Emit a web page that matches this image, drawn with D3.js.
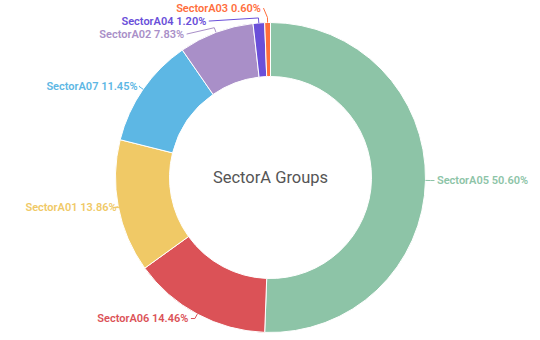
<!DOCTYPE html>
<html>
<head>
<meta charset="utf-8">
<script src="https://cdn.jsdelivr.net/npm/d3@7/dist/d3.min.js"></script>
<style>
  html, body { margin: 0; padding: 0; background: #ffffff; }
  svg { display: block; }
</style>
</head>
<body>
<svg id="chart" width="540" height="340"></svg>
<script>
// ---- data ----
const categories = ["SectorA05", "SectorA06", "SectorA01", "SectorA07", "SectorA02", "SectorA04", "SectorA03"];
const values = [50.60, 14.46, 13.86, 11.45, 7.83, 1.20, 0.60];
const centerTitle = "SectorA Groups";

// ---- styles ----
const palette = ["#8DC4A7", "#DB5257", "#F0C966", "#5DB7E4", "#A98FC8", "#6A4FD9", "#FF6E3C"];
const W = 540, H = 340;
const cx = 270.5, cy = 177.5;
const outerR = 155, innerR = 101;
const len1 = 5, len2 = 4, textGap = 2.5, lineH = 13;
const font = "Roboto, 'Noto Sans', sans-serif";

const svg = d3.select("#chart");
const g = svg.append("g").attr("transform", `translate(${cx},${cy})`);

const data = categories.map((c, i) => ({ name: c, value: values[i], color: palette[i] }));
const pie = d3.pie().sort(null).value(d => d.value);
const arcs = pie(data);
const arc = d3.arc().innerRadius(innerR).outerRadius(outerR);

g.selectAll("path.slice")
  .data(arcs)
  .join("path")
  .attr("class", "slice")
  .attr("d", arc)
  .attr("fill", d => d.data.color)
  .attr("stroke", "#ffffff")
  .attr("stroke-width", 1);

// ---- label layout (positions derived from slice angles) ----
const labels = arcs.map(a => {
  const mid = (a.startAngle + a.endAngle) / 2;
  const ux = Math.sin(mid), uy = -Math.cos(mid);
  const side = ux < 0 ? -1 : 1;
  const p1 = [outerR * ux, outerR * uy];
  const p2 = [(outerR + len1) * ux, (outerR + len1) * uy];
  return { a, side, p1, p2, x: p2[0] + len2 * side, y: p2[1], y0: p2[1] };
});

function resolveSide(list) {
  list.sort((p, q) => p.y - q.y);
  let clusters = list.map(d => ({ items: [d], mean: d.y0 }));
  let changed = true;
  const place = c => {
    const n = c.items.length;
    c.items.forEach((d, i) => { d.y = c.mean + (i - (n - 1) / 2) * lineH; });
  };
  clusters.forEach(place);
  while (changed) {
    changed = false;
    for (let i = 0; i < clusters.length - 1; i++) {
      const A = clusters[i], B = clusters[i + 1];
      const aLast = A.items[A.items.length - 1], bFirst = B.items[0];
      if (bFirst.y - aLast.y < lineH) {
        const items = A.items.concat(B.items);
        const merged = { items, mean: d3.mean(items, d => d.y0) };
        place(merged);
        clusters.splice(i, 2, merged);
        changed = true;
        break;
      }
    }
  }
  const shifted = list.some(d => Math.abs(d.y - d.y0) > 0.01);
  if (!shifted) return;
  const rA = outerR - 5;
  [list.filter(d => d.y <= 0), list.filter(d => d.y > 0)].forEach(semi => {
    if (!semi.length) return;
    const far = semi.reduce((m, d) => Math.abs(d.y) > Math.abs(m.y) ? d : m, semi[0]);
    const fdx = far.p2[0];
    const fdy = Math.abs(far.y);
    const rB = Math.abs(fdx) < rA ? Math.sqrt(fdy * fdy / (1 - fdx * fdx / (rA * rA))) : rA;
    semi.forEach(d => {
      const dy = Math.abs(d.y);
      const dx = Math.sqrt(Math.max(0, 1 - dy * dy / (rB * rB))) * rA;
      d.x = (dx + len2) * d.side;
    });
  });
}
resolveSide(labels.filter(d => d.side < 0));
resolveSide(labels.filter(d => d.side > 0));

g.selectAll("polyline.lbl-line")
  .data(labels)
  .join("polyline")
  .attr("class", "lbl-line")
  .attr("points", d => [d.p1, d.p2, [d.x, d.y]].map(p => p.join(",")).join(" "))
  .attr("fill", "none")
  .attr("stroke", d => d.a.data.color)
  .attr("stroke-width", 1);

g.selectAll("text.lbl")
  .data(labels)
  .join("text")
  .attr("class", "lbl")
  .attr("x", d => d.x + textGap * d.side)
  .attr("y", d => d.y)
  .attr("dy", "0.35em")
  .attr("text-anchor", d => d.side < 0 ? "end" : "start")
  .attr("font-family", font)
  .attr("font-size", 11)
  .attr("font-weight", 600)
  .attr("fill", d => d.a.data.color)
  .text(d => `${d.a.data.name} ${d3.format(".2f")(d.a.data.value)}%`);

g.append("text")
  .attr("x", 0)
  .attr("y", 0)
  .attr("dy", "0.35em")
  .attr("text-anchor", "middle")
  .attr("font-family", font)
  .attr("font-size", 16.5)
  .attr("fill", "#555555")
  .text(centerTitle);
</script>
</body>
</html>
